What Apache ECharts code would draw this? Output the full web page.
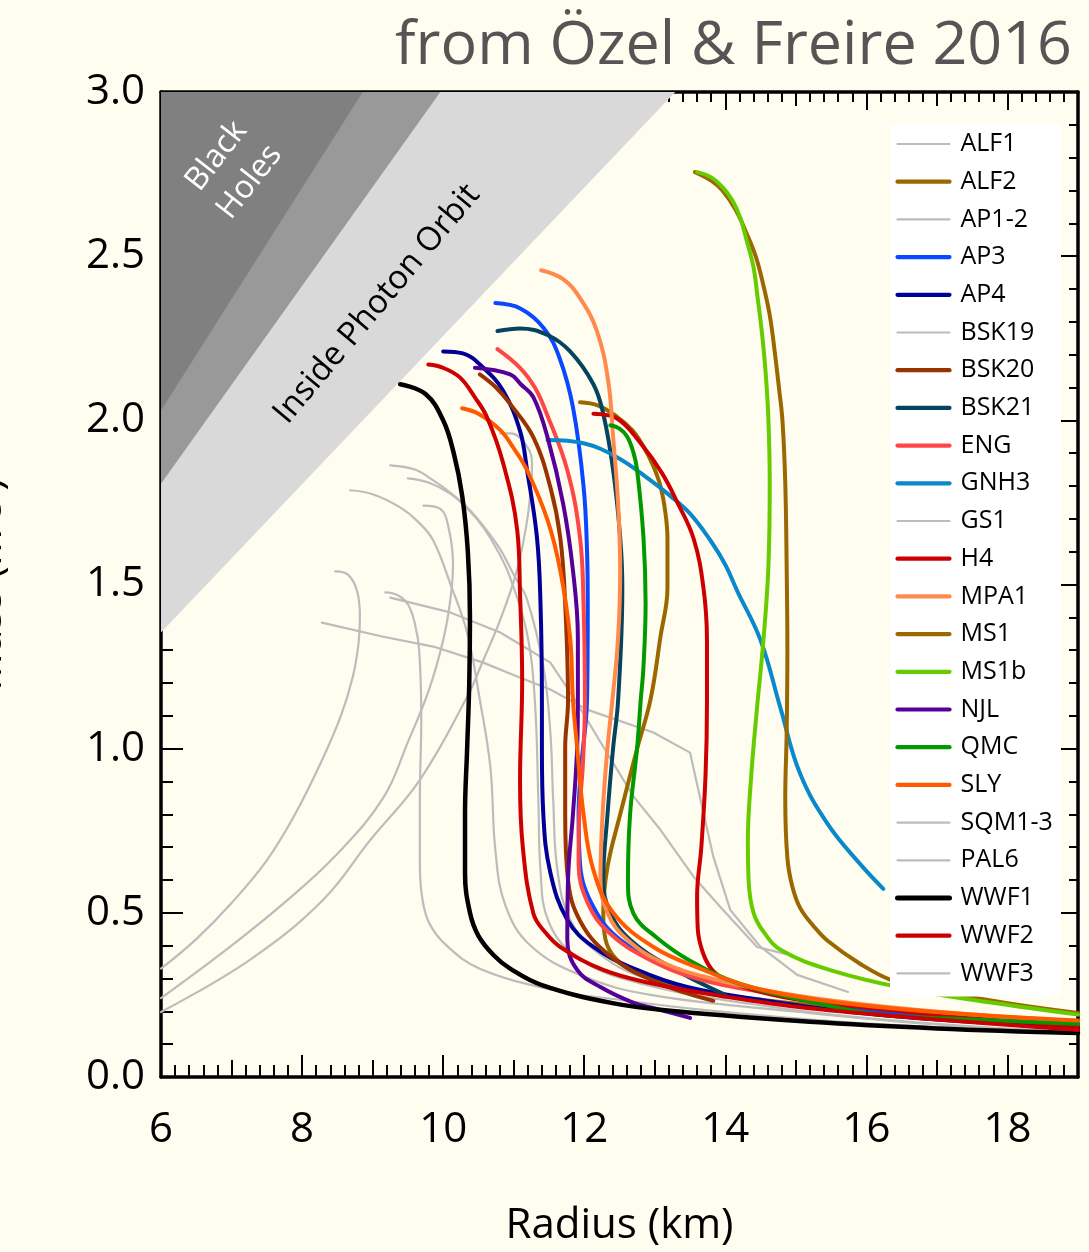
<!DOCTYPE html>
<html><head><meta charset="utf-8">
<script src="https://cdn.jsdelivr.net/npm/echarts@6/dist/echarts.min.js"></script>
<style>html,body{margin:0;padding:0;background:#fffdf0;}#chart{width:1089px;height:1252px;}</style>
</head><body><div id="chart"></div>
<script>
// ---- shaded regions (radius km, mass Msun) ----
const blackHoleRegion = [[6,3],[6,2.03],[8.86,3]];
const buchdahlRegion  = [[6,3],[6,1.807],[9.96,3]];
const photonRegion    = [[6,3],[6,1.354],[13.29,3]];

// ---- gray curves ----
const ALF1  = [[9.25,1.863],[9.6,1.85],[9.86,1.817],[10.1,1.78],[10.34,1.735],[10.6,1.67],[10.81,1.607],[11.0,1.53],[11.19,1.454],[11.42,1.25],[11.52,1.049],[11.56,0.845],[11.62,0.63],[11.8,0.48],[12.23,0.372],[12.94,0.296],[14.35,0.235],[16.48,0.19],[19,0.143]];
const AP1_2 = [[9.18,1.476],[9.35,1.468],[9.5,1.44],[9.6,1.38],[9.66,1.3],[9.69,1.09],[9.67,0.85],[9.67,0.65],[9.7,0.55],[9.8,0.47],[10.05,0.4],[10.52,0.33],[11.56,0.265],[12.51,0.235],[13.65,0.205],[15.5,0.17],[17,0.152],[19,0.136]];
const BSK19 = [[9.5,1.823],[9.8,1.81],[10.1,1.777],[10.35,1.73],[10.57,1.674],[10.78,1.6],[10.95,1.521],[11.19,1.35],[11.3,1.146],[11.35,0.84],[11.38,0.63],[11.49,0.476],[11.87,0.37],[12.65,0.293],[14.35,0.223],[16.5,0.17],[19,0.134]];
const GS1   = [[8.28,1.384],[9.15,1.341],[9.86,1.311],[10.57,1.262],[11.05,1.22],[11.52,1.18],[12.04,1.119],[12.98,1.049],[13.5,0.988],[13.69,0.805],[13.83,0.671],[14.07,0.509],[14.5,0.396],[15.02,0.311],[15.74,0.259]];
const SQM1  = [[8.47,1.54],[8.65,1.53],[8.78,1.48],[8.82,1.4],[8.8,1.32],[8.72,1.22],[8.55,1.1],[8.25,0.95],[7.9,0.8],[7.5,0.66],[7.0,0.53],[6.5,0.42],[6.0,0.33]];
const SQM2  = [[9.72,1.74],[9.96,1.73],[10.08,1.67],[10.14,1.56],[10.1,1.45],[10.0,1.33],[9.8,1.18],[9.5,1.02],[9.15,0.85],[8.5,0.68],[7.8,0.54],[7.0,0.4],[6.0,0.24]];
const SQM3  = [[10.81,1.96],[10.96,1.96],[11.19,1.92],[11.26,1.87],[11.24,1.79],[11.19,1.695],[11.05,1.546],[10.81,1.393],[10.57,1.27],[10.34,1.158],[9.67,0.905],[8.96,0.72],[8.3,0.54],[7.26,0.357],[6.0,0.198]];
const PAL6  = [[9.25,1.46],[10.1,1.415],[10.81,1.354],[11.52,1.262],[11.87,1.149],[12.27,1.006],[12.7,0.854],[13.08,0.753],[13.55,0.61],[13.93,0.518],[14.45,0.396],[14.85,0.375]];
const WWF3  = [[8.68,1.787],[9.0,1.775],[9.39,1.735],[9.65,1.69],[9.86,1.634],[10.1,1.503],[10.34,1.353],[10.52,1.149],[10.67,0.942],[10.74,0.692],[10.88,0.524],[11.23,0.402],[11.94,0.311],[12.94,0.25],[15.06,0.198],[17,0.16],[19,0.137]];

// ---- coloured curves ----
const ALF2  = [[11.94,2.055],[12.2,2.045],[12.47,2.01],[12.68,1.97],[12.84,1.92],[12.98,1.86],[13.08,1.8],[13.15,1.72],[13.18,1.64],[13.18,1.49],[13.08,1.34],[12.94,1.15],[12.75,1.0],[12.51,0.8],[12.33,0.64],[12.27,0.5],[12.3,0.42],[12.45,0.36],[12.8,0.31],[13.5,0.265],[14.5,0.235],[16,0.205],[19,0.17]];
const AP3   = [[10.74,2.357],[11.1,2.34],[11.43,2.28],[11.65,2.19],[11.84,2.04],[11.99,1.8],[12.04,1.6],[12.05,1.44],[12.04,1.15],[11.96,0.95],[11.92,0.8],[11.94,0.65],[12.13,0.518],[12.51,0.418],[13.22,0.335],[14.2,0.275],[15.16,0.235],[16.1,0.2],[17.5,0.172],[19,0.152]];
const AP4   = [[10.0,2.21],[10.28,2.204],[10.57,2.16],[10.85,2.09],[11.09,1.968],[11.19,1.848],[11.33,1.643],[11.38,1.442],[11.4,1.149],[11.4,1.0],[11.42,0.8],[11.52,0.622],[11.76,0.479],[12.13,0.396],[12.75,0.326],[13.46,0.274],[14.5,0.235],[15.5,0.205],[17,0.175],[19,0.15]];
const BSK20 = [[10.52,2.14],[10.75,2.1],[10.95,2.05],[11.28,1.948],[11.52,1.796],[11.66,1.643],[11.73,1.442],[11.77,1.146],[11.73,1.003],[11.73,0.8],[11.77,0.6],[11.94,0.476],[12.33,0.375],[12.98,0.293],[13.83,0.232]];
const BSK21 = [[10.77,2.272],[11.09,2.28],[11.48,2.26],[11.8,2.21],[12.13,2.11],[12.27,2.02],[12.41,1.848],[12.51,1.643],[12.54,1.49],[12.48,1.146],[12.41,1.003],[12.33,0.8],[12.27,0.6],[12.37,0.5],[12.65,0.418],[13.22,0.335],[14.0,0.25]];
const ENG   = [[10.77,2.217],[11.09,2.16],[11.3,2.1],[11.45,2.03],[11.76,1.848],[11.94,1.643],[11.99,1.442],[12.01,1.146],[11.98,0.95],[11.93,0.8],[11.92,0.65],[12.05,0.53],[12.35,0.44],[12.9,0.36],[13.6,0.3],[14.5,0.26],[16,0.215],[19,0.16]];
const GNH3  = [[11.48,1.94],[11.99,1.93],[12.47,1.887],[12.94,1.817],[13.22,1.77],[13.5,1.716],[13.79,1.634],[14.0,1.56],[14.17,1.48],[14.5,1.33],[14.78,1.125],[15.06,0.924],[15.45,0.771],[15.91,0.649],[16.24,0.573]];
const H4    = [[12.13,2.02],[12.47,2.005],[12.8,1.93],[13.1,1.84],[13.32,1.75],[13.55,1.64],[13.69,1.49],[13.74,1.33],[13.74,1.14],[13.72,0.92],[13.66,0.7],[13.6,0.55],[13.61,0.45],[13.68,0.38],[13.8,0.33],[13.97,0.3],[14.45,0.262],[15.16,0.232],[17,0.19],[19,0.155]];
const MPA1  = [[11.39,2.457],[11.7,2.43],[11.94,2.372],[12.18,2.272],[12.34,2.12],[12.41,1.948],[12.48,1.747],[12.51,1.543],[12.48,1.338],[12.4,1.149],[12.33,1.003],[12.26,0.8],[12.23,0.6],[12.33,0.5],[12.6,0.42],[13.1,0.35],[13.8,0.3],[14.8,0.255],[16,0.22],[17.5,0.19],[19,0.17]];
const MS1   = [[13.57,2.756],[13.8,2.73],[13.96,2.7],[14.15,2.64],[14.3,2.57],[14.43,2.5],[14.53,2.42],[14.63,2.32],[14.7,2.21],[14.76,2.1],[14.81,2.0],[14.85,1.81],[14.87,1.55],[14.88,1.3],[14.87,1.05],[14.85,0.85],[14.88,0.667],[14.95,0.58],[15.06,0.515],[15.25,0.46],[15.45,0.415],[15.91,0.345],[16.38,0.293],[17,0.262],[18,0.225],[19,0.195]];
const MS1b  = [[13.6,2.756],[13.8,2.74],[13.96,2.71],[14.1,2.67],[14.21,2.618],[14.3,2.55],[14.4,2.466],[14.46,2.37],[14.52,2.265],[14.57,2.15],[14.61,2.009],[14.63,1.808],[14.61,1.55],[14.54,1.33],[14.45,1.125],[14.37,0.924],[14.32,0.72],[14.33,0.6],[14.4,0.5],[14.55,0.44],[14.8,0.385],[15.5,0.325],[16.5,0.272],[17.5,0.235],[19,0.19]];
const NJL   = [[10.45,2.16],[10.95,2.14],[11.1,2.11],[11.28,2.07],[11.48,1.948],[11.7,1.747],[11.84,1.543],[11.91,1.338],[11.91,1.146],[11.9,1.003],[11.84,0.8],[11.77,0.6],[11.76,0.418],[11.9,0.326],[12.23,0.274],[12.7,0.226],[13.03,0.207],[13.5,0.18]];
const QMC   = [[12.37,1.985],[12.5,1.975],[12.61,1.95],[12.7,1.9],[12.75,1.848],[12.84,1.643],[12.87,1.442],[12.84,1.25],[12.8,1.146],[12.75,1.003],[12.65,0.8],[12.62,0.6],[12.7,0.497],[13.03,0.424],[13.5,0.354],[14.2,0.284],[15.16,0.232],[16.1,0.192],[17.5,0.175],[19,0.162]];
const SLY   = [[10.27,2.037],[10.5,2.02],[10.81,1.97],[11.0,1.915],[11.19,1.848],[11.48,1.696],[11.66,1.543],[11.8,1.338],[11.84,1.149],[11.9,1.003],[11.99,0.8],[12.13,0.63],[12.41,0.5],[12.98,0.396],[13.69,0.326],[14.35,0.275],[15.16,0.24],[16.1,0.215],[17.5,0.19],[19,0.172]];
const WWF1  = [[9.39,2.11],[9.75,2.08],[10.0,2.0],[10.15,1.9],[10.27,1.77],[10.35,1.6],[10.38,1.4],[10.37,1.2],[10.34,1.0],[10.31,0.8],[10.31,0.62],[10.38,0.5],[10.5,0.43],[10.72,0.37],[10.95,0.33],[11.4,0.28],[12.4,0.225],[13.3,0.2],[15.2,0.168],[17,0.148],[19,0.134]];
const WWF2  = [[9.79,2.17],[10.0,2.16],[10.24,2.13],[10.45,2.07],[10.62,2.01],[10.85,1.87],[11.05,1.665],[11.09,1.472],[11.12,1.207],[11.09,0.902],[11.13,0.698],[11.28,0.497],[11.45,0.44],[11.66,0.396],[12.27,0.326],[12.98,0.284],[13.93,0.247],[15.16,0.21],[17,0.175],[19,0.143]];

const legendNames = ['ALF1','ALF2','AP1-2','AP3','AP4','BSK19','BSK20','BSK21','ENG','GNH3','GS1','H4','MPA1','MS1','MS1b','NJL','QMC','SLY','SQM1-3','PAL6','WWF1','WWF2','WWF3'];
const xTickLabels = [6,8,10,12,14,16,18];

const GRAY = '#bcbcbc';
const grayCurves = [
  ['ALF1',ALF1,0.4],['AP1-2',AP1_2,0.4],['BSK19',BSK19,0.4],['GS1',GS1,0],
  ['SQM1-3',SQM1,0.4],['SQM1-3',SQM2,0.4],['SQM1-3',SQM3,0.4],['PAL6',PAL6,0],['WWF3',WWF3,0.4]
];
const colorCurves = [
  ['ALF2',ALF2,'#9a6700'],['AP3',AP3,'#0a48ff'],['AP4',AP4,'#000099'],['BSK20',BSK20,'#993300'],
  ['BSK21',BSK21,'#04445f'],['ENG',ENG,'#ff4646'],['GNH3',GNH3,'#0a88cc'],['H4',H4,'#cc0000'],
  ['MPA1',MPA1,'#ff8a4c'],['MS1',MS1,'#9a6700'],['MS1b',MS1b,'#66cc00'],['NJL',NJL,'#550099'],
  ['QMC',QMC,'#009900'],['SLY',SLY,'#ff5a00'],['WWF1',WWF1,'#000000'],['WWF2',WWF2,'#cc0000']
];
const grayNames = grayCurves.map(g=>g[0]);

const series = [];
function regionSeries(verts, color){
  return {type:'custom', silent:true, z:1, data:[[verts[0][0],verts[0][1]]], xAxisIndex:0, yAxisIndex:0,
    renderItem:(params, api)=>({type:'polygon', shape:{points:verts.map(p=>api.coord(p))}, style:{fill:color}})};
}
series.push(regionSeries(photonRegion,'#d9d9d9'));
series.push(regionSeries(buchdahlRegion,'#999999'));
series.push(regionSeries(blackHoleRegion,'#808080'));
grayCurves.forEach(([n,d,s])=>series.push({name:n,type:'line',data:d,symbol:'none',smooth:s,xAxisIndex:0,yAxisIndex:0,
  lineStyle:{color:GRAY,width:2.2,cap:'round',join:'round'},itemStyle:{color:GRAY},z:2}));
colorCurves.forEach(([n,d,c])=>series.push({name:n,type:'line',data:d,symbol:'none',smooth:0.4,xAxisIndex:0,yAxisIndex:0,
  lineStyle:{color:c,width:n==='WWF1'?4.5:4,cap:'round',join:'round'},itemStyle:{color:c},z:3}));

const legendData = legendNames.map(n=>({name:n,
  lineStyle:{width: grayNames.includes(n) ? 2.2 : (n==='WWF1'?5:4.2)}}));

const FONT = 'Open Sans';
const baseX = {type:'value',min:6,max:19,splitLine:{show:false},axisLine:{onZero:false}};
const baseY = {type:'value',min:0,max:3,interval:0.5,splitLine:{show:false},axisLine:{onZero:false}};
const blk = {color:'#000',width:2};

const chart = echarts.init(document.getElementById('chart'), null, {renderer:'canvas'});
chart.setOption({
  animation:false,
  backgroundColor:'#fffdf0',
  title:{text:'from Özel & Freire 2016', right:12, top:11,
    textStyle:{fontFamily:FONT, fontWeight:400, fontSize:61, color:'#555555'}},
  grid:{left:161,right:11,top:92,bottom:175,containLabel:false,outerBoundsMode:'none'},
  legend:{data:legendData, orient:'vertical', left:890, top:124, backgroundColor:'#ffffff',
    padding:[5,8,8,5], itemWidth:52, itemHeight:14, itemGap:7.7, selectedMode:false,
    itemStyle:{opacity:0},
    textStyle:{fontFamily:FONT, fontSize:25, color:'#000', lineHeight:30, padding:[0,0,0,6]}},
  xAxis:[
    Object.assign({}, baseX, {position:'bottom', interval:2,
      axisLine:{onZero:false, lineStyle:{color:'#000',width:3.5}},
      axisTick:{inside:true,length:22,lineStyle:blk},
      axisLabel:{fontFamily:FONT,fontSize:42,color:'#000',margin:32,showMaxLabel:false,
        formatter:v=>xTickLabels.includes(v)?String(v):''},
      name:'Radius (km)', nameLocation:'middle', nameGap:128,
      nameTextStyle:{fontFamily:FONT,fontSize:42,color:'#000'}}),
    Object.assign({}, baseX, {position:'bottom', interval:1, axisLine:{show:false,onZero:false},
      axisTick:{inside:true,length:17,lineStyle:blk}, axisLabel:{show:false},
      minorTick:{show:true,splitNumber:5,length:12,lineStyle:blk}}),
    Object.assign({}, baseX, {position:'top', interval:2,
      axisLine:{onZero:false, lineStyle:{color:'#000',width:3.5}},
      axisTick:{inside:true,length:18,lineStyle:blk}, axisLabel:{show:false}}),
    Object.assign({}, baseX, {position:'top', interval:1, axisLine:{show:false,onZero:false},
      axisTick:{inside:true,length:14,lineStyle:blk}, axisLabel:{show:false},
      minorTick:{show:true,splitNumber:5,length:10,lineStyle:blk}})
  ],
  yAxis:[
    Object.assign({}, baseY, {position:'left',
      axisLine:{onZero:false, lineStyle:{color:'#000',width:3.5}},
      axisTick:{inside:true,length:22,lineStyle:blk},
      minorTick:{show:true,splitNumber:5,length:12,lineStyle:blk},
      axisLabel:{fontFamily:FONT,fontSize:42,color:'#000',margin:16,formatter:v=>v.toFixed(1)},
      name:'Mass (M\u2609)', nameLocation:'middle', nameGap:151, nameRotate:90,
      nameTextStyle:{fontFamily:FONT,fontSize:42,color:'#000'}}),
    Object.assign({}, baseY, {position:'right',
      axisLine:{onZero:false, lineStyle:{color:'#000',width:3.5}},
      axisTick:{inside:true,length:17,lineStyle:blk},
      minorTick:{show:true,splitNumber:5,length:9,lineStyle:blk},
      axisLabel:{show:false}})
  ],
  graphic:[
    {type:'text', x:233, y:169, rotation:52*Math.PI/180, z:100,
      style:{text:'Black\nHoles', fill:'#ffffff', font:'32px "Open Sans"', align:'center', verticalAlign:'middle', lineHeight:42}},
    {type:'text', x:377, y:304, rotation:50*Math.PI/180, z:100,
      style:{text:'Inside Photon Orbit', fill:'#000000', font:'33px "Open Sans"', align:'center', verticalAlign:'middle'}}
  ],
  series:series
});
</script></body></html>
